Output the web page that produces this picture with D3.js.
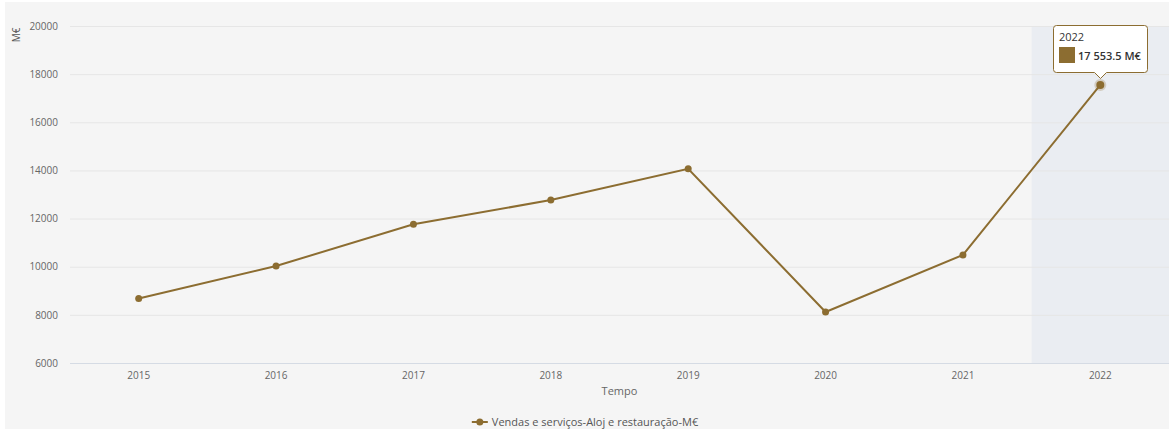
<!DOCTYPE html>
<html><head><meta charset="utf-8">
<script src="https://cdn.jsdelivr.net/npm/d3@7"></script>
<style>
html,body{margin:0;padding:0;background:#fff;}
svg{display:block;font-family:"Open Sans",sans-serif;}
</style></head><body>
<svg id="c" width="1169" height="429"></svg>
<script>
const categories = ["2015","2016","2017","2018","2019","2020","2021","2022"];
const values = [8680, 10030, 11760, 12770, 14070, 8120, 10490, 17553.5];
const yTicks = [6000, 8000, 10000, 12000, 14000, 16000, 18000, 20000];
const seriesName = "Vendas e serviços-Aloj e restauração-M€";
const yTitle = "M€";
const xTitle = "Tempo";
const highlight = "2022";
const tooltipValue = "17 553.5 M€";

const W = 1169, H = 429;
const color = "#8c6d31";
const svg = d3.select("#c");
svg.append("rect").attr("x",5).attr("y",2).attr("width",W-5).attr("height",H-2).attr("fill","#f5f5f5");

const pLeft = 70, pRight = 1169, pTop = 26, pBottom = 363;
const x = d3.scaleBand().domain(categories).range([pLeft, pRight]);
const y = d3.scaleLinear().domain([6000, 20000]).range([pBottom, pTop]);

// highlight band
svg.append("rect").attr("x", x(highlight)).attr("y", pTop).attr("width", x.bandwidth()).attr("height", pBottom-pTop).attr("fill","#eaedf2");

// grid
svg.append("g").selectAll("line").data(yTicks).join("line")
  .attr("x1", pLeft).attr("x2", pRight).attr("y1", d=>y(d)+0.5).attr("y2", d=>y(d)+0.5)
  .attr("stroke", d=> d===6000 ? "#d5dbe4" : "#e6e6e6").attr("stroke-width",1);

// y axis labels
const ya = svg.append("g").attr("transform",`translate(${pLeft},0)`)
  .call(d3.axisLeft(y).tickValues(yTicks).tickSize(0).tickPadding(12).tickFormat(d3.format("d")));
ya.select(".domain").remove();
ya.selectAll("text").attr("fill","#666").style("font-size","10px").style("font-family","'Open Sans',sans-serif");

// x axis labels
const xa = svg.append("g").attr("transform",`translate(0,${pBottom})`)
  .call(d3.axisBottom(x).tickSize(0).tickPadding(9));
xa.select(".domain").remove();
xa.selectAll("text").attr("fill","#666").style("font-size","10px").style("font-family","'Open Sans',sans-serif");

// titles
svg.append("text").attr("transform",`translate(20,${pTop+9}) rotate(-90)`).attr("text-anchor","middle")
  .attr("fill","#555").style("font-size","10px").text(yTitle);
svg.append("text").attr("x",(pLeft+pRight)/2).attr("y",395).attr("text-anchor","middle")
  .attr("fill","#666").style("font-size","11px").text(xTitle);

// line
const cx = d => x(d) + x.bandwidth()/2;
const line = d3.line().x((d,i)=>cx(categories[i])).y(d=>y(d));
svg.append("path").datum(values).attr("d", line).attr("fill","none").attr("stroke",color).attr("stroke-width",2);
svg.append("g").selectAll("circle").data(values).join("circle")
  .attr("cx",(d,i)=>cx(categories[i])).attr("cy",d=>y(d))
  .attr("r",(d,i)=>categories[i]===highlight?4:3.5)
  .attr("fill",color)
  .attr("stroke",(d,i)=>categories[i]===highlight?"rgba(140,109,49,0.25)":"none")
  .attr("stroke-width",4);

// tooltip
const hi = categories.indexOf(highlight);
const px = cx(highlight), py = y(values[hi]);
const tw = 94, th = 47, tx = Math.round(px - 47), ty = Math.round(py - 60), r = 3;
const tp = `M${tx+r},${ty} h${tw-2*r} q${r},0 ${r},${r} v${th-2*r} q0,${r} ${-r},${r} h${-(tw/2-6-r)} l-6,6 l-6,-6 h${-(tw/2-6-r)} q${-r},0 ${-r},${-r} v${-(th-2*r)} q0,${-r} ${r},${-r} Z`;
svg.append("path").attr("d",tp).attr("fill","#fff").attr("stroke",color).attr("stroke-width",1)
  .attr("transform","translate(0.5,0.5)");
svg.append("text").attr("x",tx+6).attr("y",ty+16).attr("fill","#333").style("font-size","11px").text(highlight);
svg.append("rect").attr("x",tx+6).attr("y",ty+22).attr("width",16).attr("height",16).attr("fill",color);
svg.append("text").attr("x",tx+25).attr("y",ty+35).attr("fill","#333").style("font-size","11px").style("font-weight","600").text(tooltipValue);

// legend
const lg = svg.append("g").attr("transform","translate(585,422)");
const lt = lg.append("text").attr("x",0).attr("y",4).attr("fill","#555").style("font-size","11px").text(seriesName);
const lw = lt.node().getComputedTextLength();
const total = lw + 20;
lt.attr("x", -total/2 + 20);
lg.append("line").attr("x1",-total/2).attr("x2",-total/2+16).attr("y1",0).attr("y2",0).attr("stroke",color).attr("stroke-width",2);
lg.append("circle").attr("cx",-total/2+8).attr("cy",0).attr("r",3.5).attr("fill",color);
</script>
</body></html>
